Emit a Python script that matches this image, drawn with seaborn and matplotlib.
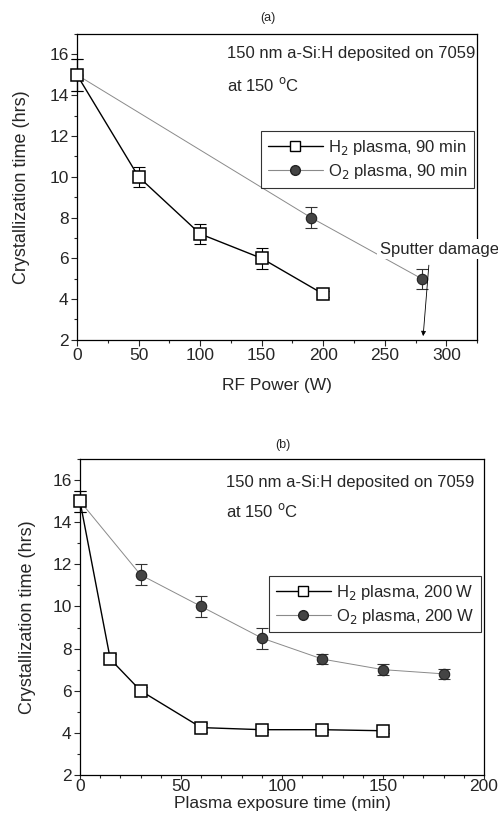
import matplotlib
matplotlib.use("Agg")
import matplotlib.pyplot as plt
import seaborn as sns
import pandas as pd
from matplotlib.ticker import MultipleLocator
from matplotlib.lines import Line2D

sns.set_theme(style="ticks")
plt.rcParams['font.family'] = ['Liberation Sans', 'DejaVu Sans']

# Panel (a): RF power
a_h2_x = [0, 50, 100, 150, 200]
a_h2_y = [15, 10, 7.2, 6, 4.25]
a_h2_err = [0.8, 0.5, 0.5, 0.5, 0.15]
a_o2_x = [0, 190, 280]
a_o2_y = [15, 8, 5]
a_o2_err = [0.8, 0.5, 0.5]

# Panel (b): exposure time
b_h2_x = [0, 15, 30, 60, 90, 120, 150]
b_h2_y = [15, 7.5, 6, 4.25, 4.15, 4.15, 4.1]
b_h2_err = [0.5, 0.25, 0.2, 0.2, 0.1, 0.1, 0.1]
b_o2_x = [0, 30, 60, 90, 120, 150, 180]
b_o2_y = [15, 11.5, 10, 8.5, 7.5, 7.0, 6.8]
b_o2_err = [0.5, 0.5, 0.5, 0.5, 0.25, 0.25, 0.25]

labels_a = ["H$_2$ plasma, 90 min", "O$_2$ plasma, 90 min"]
labels_b = ["H$_2$ plasma, 200 W", "O$_2$ plasma, 200 W"]

fig = plt.figure(figsize=(4.98, 8.31), dpi=100)
axa = fig.add_axes([0.1546, 0.591, 0.958 - 0.1546, 0.959 - 0.591])
axb = fig.add_axes([0.1606, 0.0674, 0.972 - 0.1606, 0.4477 - 0.0674])

H2_COL = "black"
O2_COL = "#444444"
O2_LINE = "#8a8a8a"
FS = 12

def draw(ax, hx, hy, he, ox, oy, oe, labels, leg_top, txt_x, txt_y1, txt_y2, ylpad):
    dh = pd.DataFrame({"x": hx, "y": hy})
    do = pd.DataFrame({"x": ox, "y": oy})
    sns.lineplot(data=do, x="x", y="y", ax=ax, color=O2_LINE, lw=0.7,
                 marker="o", markersize=7.5, markerfacecolor=O2_COL,
                 markeredgecolor="#222222", markeredgewidth=0.8, zorder=3,
                 clip_on=False)
    ax.errorbar(ox, oy, yerr=oe, fmt="none", ecolor="#333333", elinewidth=0.8,
                capsize=4, capthick=0.8, zorder=2, clip_on=False)
    sns.lineplot(data=dh, x="x", y="y", ax=ax, color=H2_COL, lw=1.0,
                 marker="s", markersize=8.5, markerfacecolor="white",
                 markeredgecolor="black", markeredgewidth=1.1, zorder=4,
                 clip_on=False)
    ax.errorbar(hx, hy, yerr=he, fmt="none", ecolor="black", elinewidth=0.8,
                capsize=4, capthick=0.8, zorder=2, clip_on=False)
    handles = [
        Line2D([], [], color=H2_COL, lw=1.0, marker="s", markersize=7,
               markerfacecolor="white", markeredgecolor="black"),
        Line2D([], [], color=O2_LINE, lw=0.8, marker="o", markersize=7,
               markerfacecolor=O2_COL, markeredgecolor="#222222"),
    ]
    leg = ax.legend(handles, labels, loc="upper right", bbox_to_anchor=(1.0, leg_top),
                    frameon=True, fancybox=False, edgecolor="black", fontsize=FS,
                    handlelength=3.3, borderpad=0.4, labelspacing=0.3,
                    handletextpad=0.3, borderaxespad=0.2)
    leg.get_frame().set_linewidth(0.8)
    ax.set_ylim(2, 17)
    ax.yaxis.set_major_locator(MultipleLocator(2))
    ax.yaxis.set_minor_locator(MultipleLocator(1))
    ax.set_ylabel("Crystallization time (hrs)", fontsize=13, labelpad=ylpad)
    ax.tick_params(which="major", length=4, width=0.8, labelsize=12.5, direction="out",
                   top=False, right=False, pad=2)
    ax.tick_params(which="minor", length=2, width=0.8, direction="out",
                   top=False, right=False)
    for s in ax.spines.values():
        s.set_linewidth(0.9)
        s.set_color("black")
    ax.text(txt_x, txt_y1, "150 nm a-Si:H deposited on 7059", transform=ax.transAxes,
            fontsize=FS, ha="left", va="center")
    ax.text(txt_x, txt_y2, "at 150 $^{\\mathrm{o}}$C", transform=ax.transAxes,
            fontsize=FS, ha="left", va="center")

draw(axa, a_h2_x, a_h2_y, a_h2_err, a_o2_x, a_o2_y, a_o2_err, labels_a,
     0.693, 0.375, 0.935, 0.835, 14)
axa.set_xlim(0, 325)
axa.xaxis.set_major_locator(MultipleLocator(50))
axa.xaxis.set_minor_locator(MultipleLocator(25))
axa.set_xlabel("RF Power (W)", fontsize=12.5, labelpad=11)
fig.text(268 / 498, 1 - 18 / 831, "(a)", fontsize=9, ha="center", va="center")
axa.annotate("", xy=(281, 2.05), xytext=(286, 5.8),
             arrowprops=dict(arrowstyle="-|>", color="black", lw=0.6,
                             mutation_scale=7), annotation_clip=False)
axa.text(246, 6.45, "Sputter damage", fontsize=FS, ha="left", va="center",
         bbox=dict(facecolor="white", edgecolor="none", pad=2), zorder=5,
         clip_on=False)

draw(axb, b_h2_x, b_h2_y, b_h2_err, b_o2_x, b_o2_y, b_o2_err, labels_b,
     0.64, 0.361, 0.927, 0.835, 12)
axb.set_xlim(0, 200)
axb.xaxis.set_major_locator(MultipleLocator(50))
axb.xaxis.set_minor_locator(MultipleLocator(10))
axb.tick_params(axis="x", which="major", pad=0, length=3)
axb.set_xlabel("Plasma exposure time (min)", fontsize=12.5, labelpad=1)
fig.text(283 / 498, 1 - 445 / 831, "(b)", fontsize=9, ha="center", va="center")

fig.savefig("out.png", dpi=100)
